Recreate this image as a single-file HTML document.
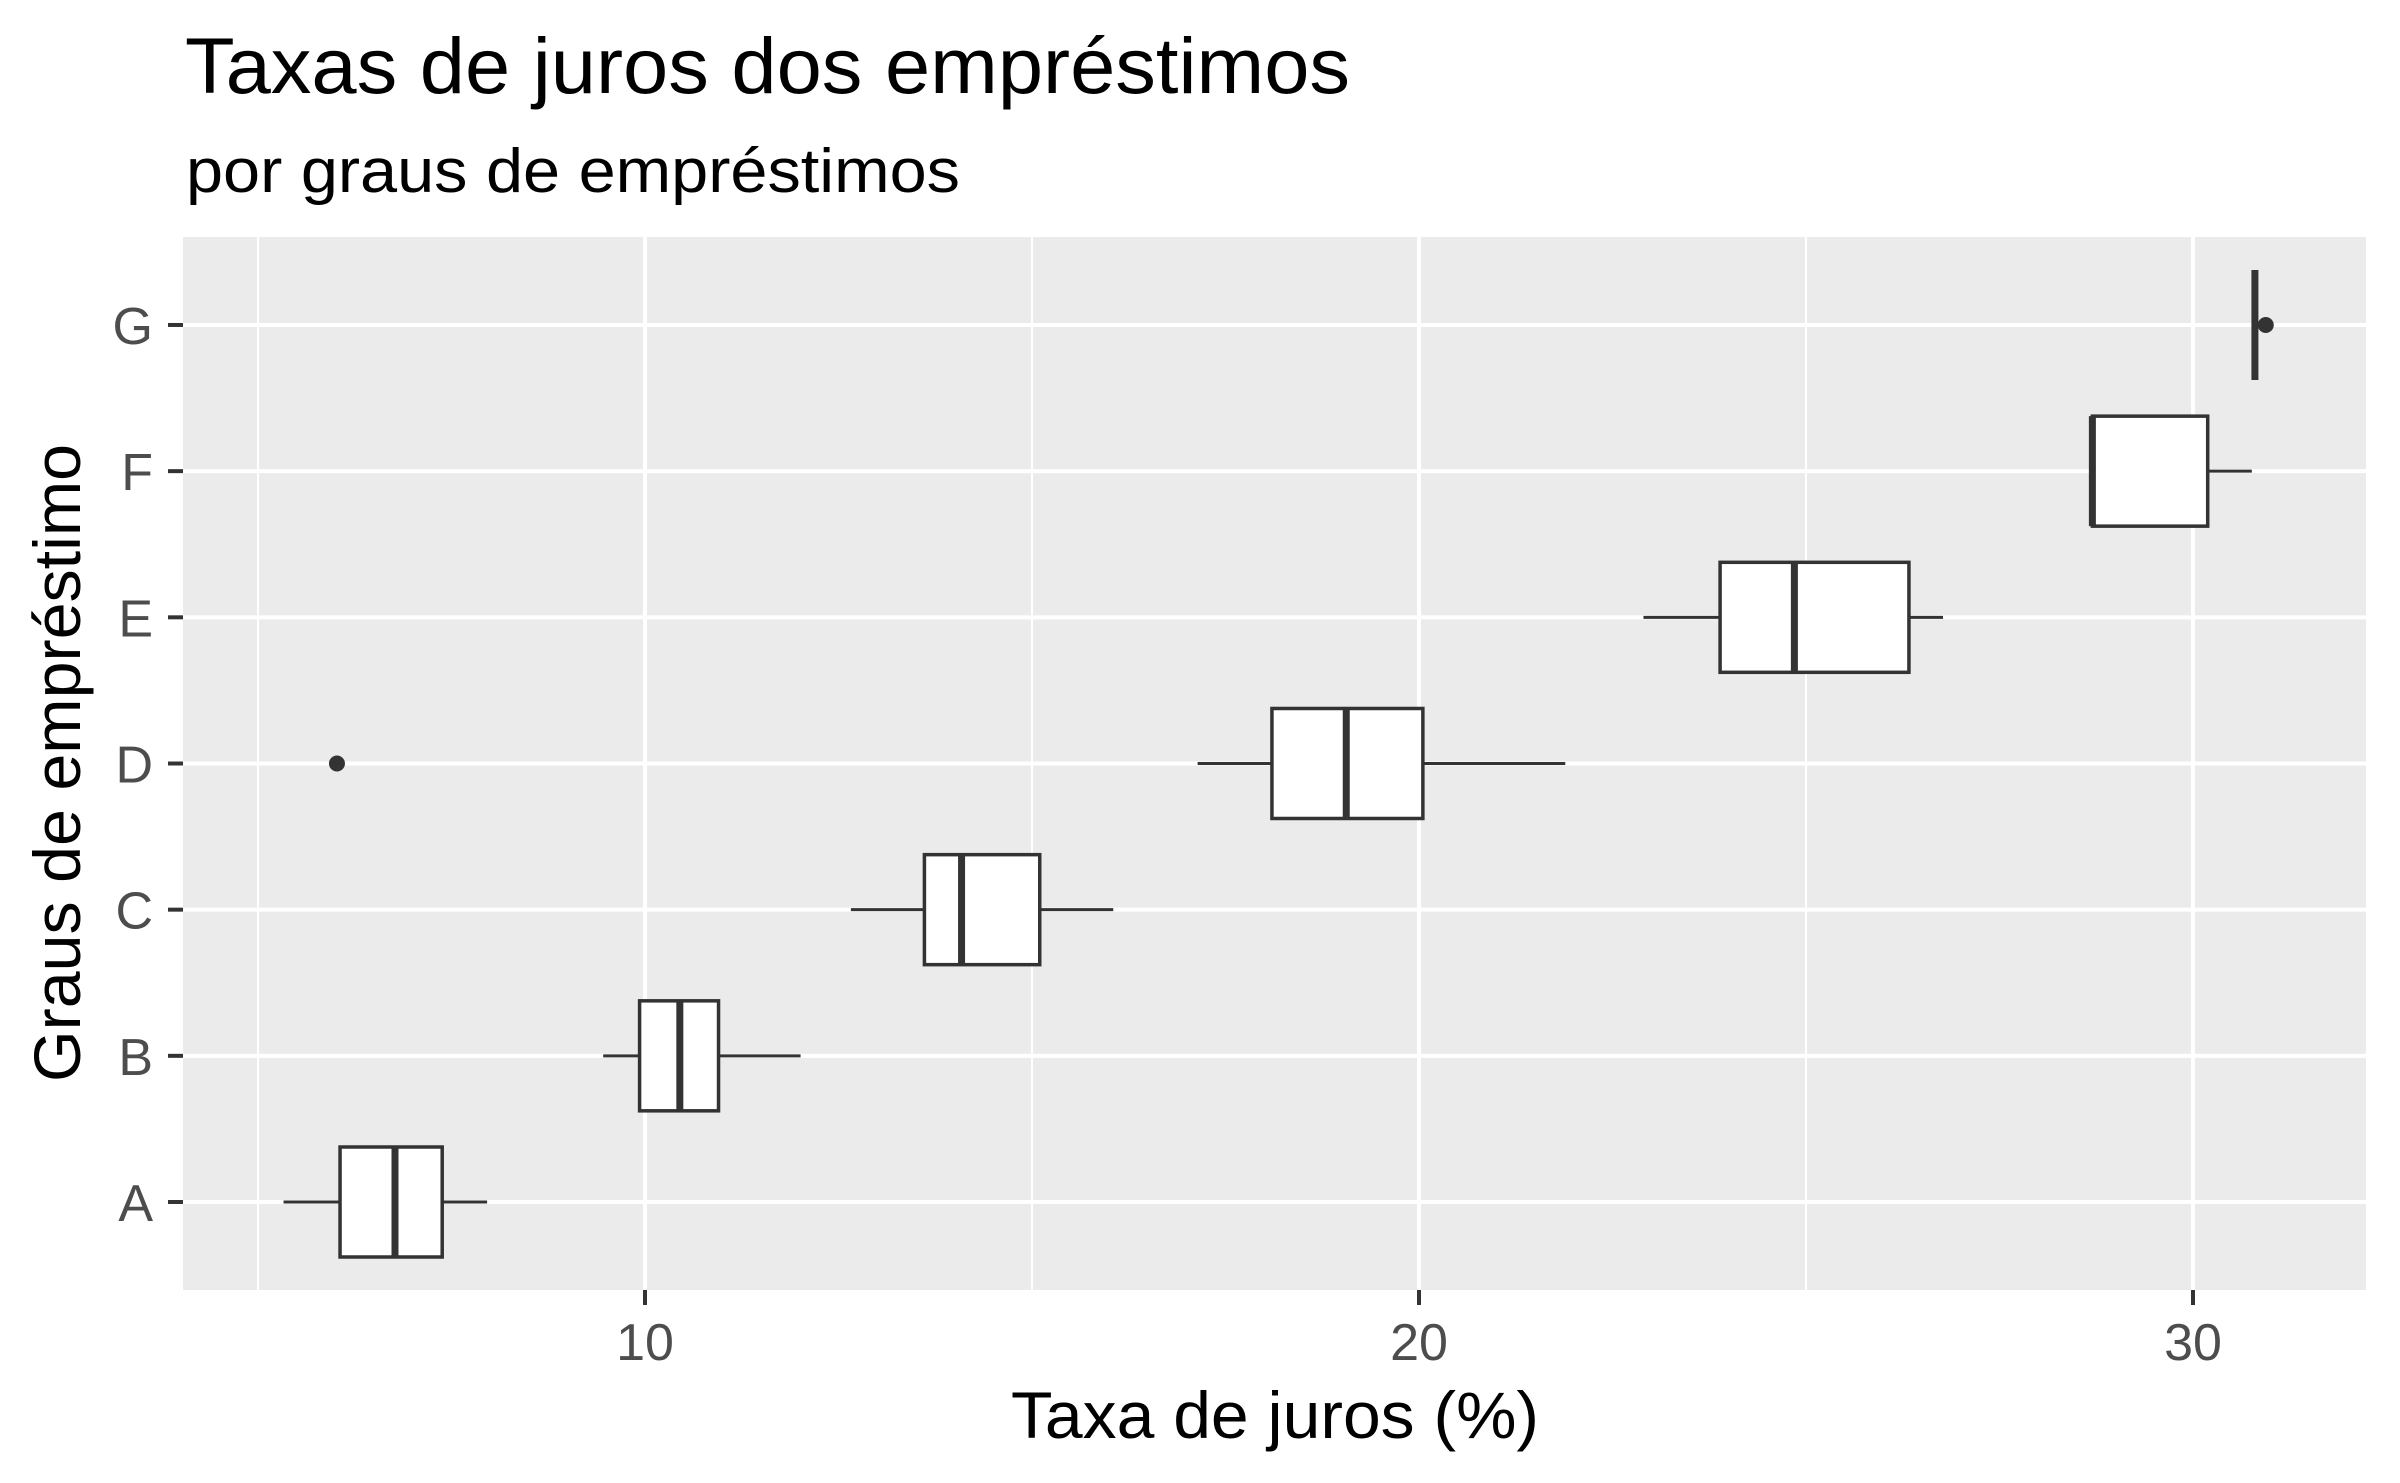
<!DOCTYPE html>
<html><head><meta charset="utf-8"><style>
html,body{margin:0;padding:0;background:#fff;}
svg{display:block;font-family:"Liberation Sans",Arial,sans-serif;}
</style></head><body>
<svg id="chart" width="2400" height="1483" viewBox="0 0 2400 1483" xmlns="http://www.w3.org/2000/svg">
<text x="185" y="93" font-size="79" fill="#000" textLength="1165" lengthAdjust="spacingAndGlyphs">Taxas de juros dos empréstimos</text>
<text x="186" y="192" font-size="62" fill="#000" textLength="774" lengthAdjust="spacingAndGlyphs">por graus de empréstimos</text>
<rect x="183" y="237" width="2183" height="1053" fill="#ebebeb"/>
<g id="grid"></g>
<g id="marks"></g>
<g id="axes"></g>
<text x="1275" y="1438" font-size="66" text-anchor="middle" fill="#000" textLength="528" lengthAdjust="spacingAndGlyphs">Taxa de juros (%)</text>
<text transform="translate(80,763) rotate(-90)" font-size="66" text-anchor="middle" fill="#000" textLength="638" lengthAdjust="spacingAndGlyphs">Graus de empréstimo</text>
</svg>
<script>
const categories = ["A","B","C","D","E","F","G"];
const whiskerLow = [5.33, 9.46, 12.66, 17.14, 22.9, 28.70, 30.80];
const q1 = [6.06, 9.93, 13.61, 18.10, 23.89, 28.70, 30.80];
const median = [6.77, 10.45, 14.09, 19.06, 24.85, 28.70, 30.80];
const q3 = [7.38, 10.95, 15.10, 20.05, 26.33, 30.19, 30.80];
const whiskerHigh = [7.96, 12.01, 16.05, 21.89, 26.77, 30.76, 30.80];
const outlierCats = ["D","G"];
const outlierVals = [6.02, 30.94];
const xTicks = [10, 20, 30];
const xMinor = [5, 15, 25];

const NS = "http://www.w3.org/2000/svg";
const PL = 183, PR = 2366, PT = 237, PB = 1290;
function xs(v){ return 645 + (v - 10) * 77.4; }
function ys(c){ return 1202 - categories.indexOf(c) * 146.17; }
function mk(tag, attrs, parent){
  const e = document.createElementNS(NS, tag);
  for (const k in attrs) e.setAttribute(k, attrs[k]);
  parent.appendChild(e); return e;
}
const grid = document.getElementById("grid");
const marks = document.getElementById("marks");
const axes = document.getElementById("axes");

xMinor.forEach(v => {
  const l = mk("line", {x1: xs(v), x2: xs(v), y1: PT, y2: PB, stroke: "#fff", "stroke-width": 2}, grid);
  
  
});
xTicks.forEach(v => {
  const l = mk("line", {x1: xs(v), x2: xs(v), y1: PT, y2: PB, stroke: "#fff", "stroke-width": 4}, grid);
  
  
  const t = mk("line", {x1: xs(v), x2: xs(v), y1: PB, y2: PB + 15, stroke: "#333", "stroke-width": 4}, axes);
  
  
  const tx = mk("text", {x: xs(v), y: 1360, "font-size": 52, fill: "#4d4d4d", "text-anchor": "middle"}, axes);
  tx.textContent = v;
  
  
});
categories.forEach(c => {
  const y = ys(c);
  const l = mk("line", {x1: PL, x2: PR, y1: y, y2: y, stroke: "#fff", "stroke-width": 4}, grid);
  
  
  const t = mk("line", {x1: PL - 15, x2: PL, y1: y, y2: y, stroke: "#333", "stroke-width": 4}, axes);
  
  
  const tx = mk("text", {x: 153, y: y + 19, "font-size": 52, fill: "#4d4d4d", "text-anchor": "end"}, axes);
  tx.textContent = c;
  
  
});
categories.forEach((c, i) => {
  const y = ys(c), h = 55;
  const g = mk("g", {}, marks);
  
  
  const w1 = mk("line", {x1: xs(whiskerLow[i]), x2: xs(q1[i]), y1: y, y2: y, stroke: "#333", "stroke-width": 3}, g);
  
  
  const w2 = mk("line", {x1: xs(q3[i]), x2: xs(whiskerHigh[i]), y1: y, y2: y, stroke: "#333", "stroke-width": 3}, g);
  
  
  const b = mk("rect", {x: xs(q1[i]), y: y - h, width: Math.max(0, xs(q3[i]) - xs(q1[i])), height: 2 * h, fill: "#fff", stroke: "#333", "stroke-width": 3.5}, g);
  
  
  const m = mk("line", {x1: xs(median[i]), x2: xs(median[i]), y1: y - h, y2: y + h, stroke: "#333", "stroke-width": 7}, g);
  
  
});
outlierCats.forEach((c, i) => {
  const p = mk("circle", {cx: xs(outlierVals[i]), cy: ys(c), r: 8, fill: "#333"}, marks);
  
  
});
</script>
</body></html>
